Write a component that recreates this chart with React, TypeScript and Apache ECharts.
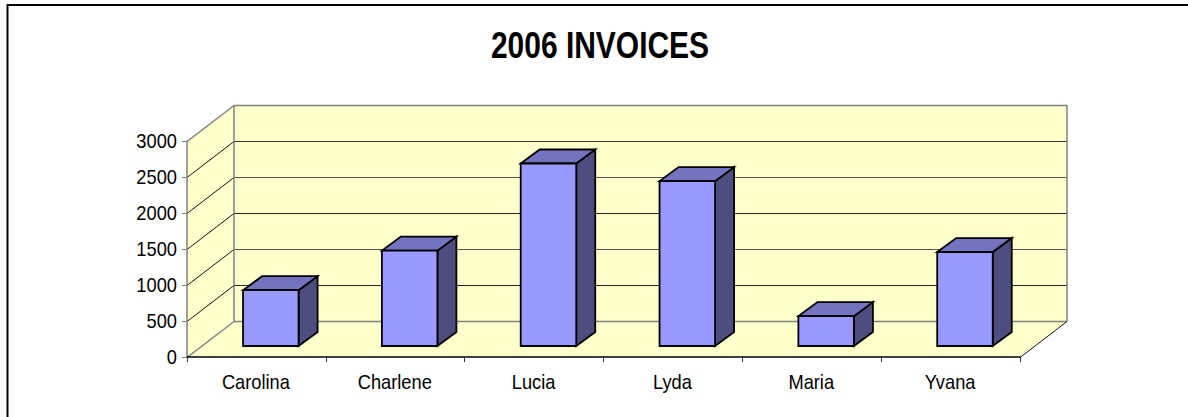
import React, { useEffect, useRef } from "react";
import * as echarts from "echarts";

const titleText = "2006 INVOICES";
const categories = ["Carolina", "Charlene", "Lucia", "Lyda", "Maria", "Yvana"];
const invoices = [775, 1325, 2535, 2290, 415, 1305];
const valueTicks = [0, 500, 1000, 1500, 2000, 2500, 3000];

const WALL_DX = 47;
const WALL_DY = -36;
const BAR_OFFSET_X = 14.4;
const BAR_OFFSET_Y = -11;
const BAR_DX = 19;
const BAR_DY = -14;
const BAR_RATIO = 0.4;
const FONT = "'Liberation Sans', Arial, sans-serif";
const LABEL_SIZE = 21;
const LABEL_SQUEEZE = 0.87;

function poly(points: number[][], fill: string, stroke: string | null, lineWidth = 1) {
  return {
    type: "polygon",
    shape: { points },
    style: { fill, stroke: stroke ?? "none", lineWidth, lineJoin: "miter" },
    silent: true,
  };
}

function segment(a: number[], b: number[], stroke: string, lineWidth = 1) {
  return {
    type: "line",
    shape: { x1: a[0], y1: a[1], x2: b[0], y2: b[1] },
    style: { stroke, lineWidth },
    silent: true,
  };
}

function label(text: string, x: number, y: number, align: string) {
  return {
    type: "text",
    x,
    y,
    scaleX: LABEL_SQUEEZE,
    style: { text, fontFamily: FONT, fontSize: LABEL_SIZE, fill: "#000000", align, verticalAlign: "middle" },
    silent: true,
  };
}

function renderWalls(params: any, api: any) {
  const cs = params.coordSys;
  const left = cs.x;
  const right = cs.x + cs.width;
  const bottom = cs.y + cs.height;
  const top = cs.y;
  const wall = "#FFFFCC";
  const edge = "#808080";
  const children: any[] = [
    poly([[left + WALL_DX, top + WALL_DY], [right + WALL_DX, top + WALL_DY], [right + WALL_DX, bottom + WALL_DY], [left + WALL_DX, bottom + WALL_DY]], wall, null),
    poly([[left, top], [left + WALL_DX, top + WALL_DY], [left + WALL_DX, bottom + WALL_DY], [left, bottom]], wall, null),
    poly([[left, bottom], [left + WALL_DX, bottom + WALL_DY], [right + WALL_DX, bottom + WALL_DY], [right, bottom]], wall, null),
  ];
  valueTicks.forEach((v) => {
    const y = Math.round(api.coord([0, v])[1]) + 0.5;
    const backY = y + WALL_DY;
    if (v === 0) {
      children.push(segment([left + WALL_DX, backY], [right + WALL_DX, backY], "#808080", 1.5));
      children.push(segment([left, y], [left + WALL_DX, backY], edge, 1.5));
    } else if (v === 3000) {
      children.push(segment([left + WALL_DX, backY + 36], [right + WALL_DX, backY + 36], "#333333"));
      children.push(segment([left, y], [left + WALL_DX, backY], edge, 1.5));
    } else {
      if (v !== 2500) children.push(segment([left + WALL_DX, backY], [right + WALL_DX, backY], v === 1000 || v === 2000 ? "#555555" : "#222222"));
      children.push(segment([left, y], [left + WALL_DX, backY], "#111111", 1));
    }
    children.push(label(String(v), left - 10, y - 1, "right"));
  });
  categories.forEach((c, i) => {
    children.push(label(c, api.coord([i, 0])[0] - 0.5, bottom + 24.5, "center"));
  });
  const topY = Math.round(top) + 0.5 + WALL_DY;
  const botY = Math.round(bottom) + 0.5 + WALL_DY;
  children.push(segment([left + WALL_DX, topY], [left + WALL_DX, botY], edge, 1.5));
  children.push(segment([left + WALL_DX, topY], [right + WALL_DX, topY], edge, 1.5));
  children.push(segment([right + WALL_DX, topY], [right + WALL_DX, botY], edge, 1.5));
  children.push(segment([right, Math.round(bottom) + 0.5], [right + WALL_DX, botY], "#111111", 1));
  return { type: "group", children };
}

function renderBar(_params: any, api: any) {
  const base = api.coord([api.value(0), 0]);
  const head = api.coord([api.value(0), api.value(1)]);
  const width = api.size([1, 0])[0] * BAR_RATIO;
  const x0 = base[0] - width / 2 + BAR_OFFSET_X;
  const x1 = x0 + width;
  const yB = base[1] + BAR_OFFSET_Y;
  const yT = head[1] + BAR_OFFSET_Y;
  const stroke = "#000000";
  return {
    type: "group",
    children: [
      poly([[x1, yT], [x1 + BAR_DX, yT + BAR_DY], [x1 + BAR_DX, yB + BAR_DY], [x1, yB]], "#4D4D80", stroke, 1.8),
      poly([[x0, yT], [x0 + BAR_DX, yT + BAR_DY], [x1 + BAR_DX, yT + BAR_DY], [x1, yT]], "#7373BF", stroke, 1.8),
      poly([[x0, yT], [x1, yT], [x1, yB], [x0, yB]], "#9999FF", stroke, 1.8),
    ],
  };
}

export default function App() {
  const ref = useRef<HTMLDivElement>(null);
  useEffect(() => {
    document.body.style.margin = "0";
    document.body.style.background = "#ffffff";
    const chart = echarts.init(ref.current!, null, { renderer: "svg" });
    chart.setOption({
      animation: false,
      backgroundColor: "#ffffff",
      grid: { left: 187, top: 141, width: 833, height: 216, containLabel: false },
      xAxis: {
        type: "category",
        data: categories,
        axisLine: { show: true, lineStyle: { color: "#000000", width: 1.5 } },
        axisTick: { show: true, length: 5, lineStyle: { color: "#333333" } },
        axisLabel: { show: false },
        splitLine: { show: false },
      },
      yAxis: {
        type: "value",
        min: 0,
        max: 3000,
        interval: 500,
        axisLine: { show: true, lineStyle: { color: "#808080", width: 1.5 } },
        axisTick: { show: true, length: 5, lineStyle: { color: "#808080" } },
        axisLabel: { show: false },
        splitLine: { show: false },
      },
      graphic: [
        {
          type: "polyline",
          shape: { points: [[7.5, 417], [7.5, 5], [1188, 5]] },
          style: { fill: "none", stroke: "#000000", lineWidth: 2 },
          silent: true,
        },
        {
          type: "text",
          x: 600,
          y: 45,
          scaleX: 0.81,
          style: {
            text: titleText,
            fontFamily: FONT,
            fontSize: 37,
            fontWeight: "bold",
            fill: "#000000",
            align: "center",
            verticalAlign: "middle",
          },
          silent: true,
        },
      ],
      series: [
        {
          type: "custom",
          name: "walls",
          data: [[0, 0]],
          renderItem: renderWalls,
          z: 0,
          silent: true,
          tooltip: { show: false },
        },
        {
          type: "custom",
          name: "2006 invoices",
          data: invoices.map((v, i) => [i, v]),
          encode: { x: 0, y: 1 },
          renderItem: renderBar,
          z: 3,
          silent: true,
        },
      ],
    });
    return () => chart.dispose();
  }, []);
  return (
    <div
      ref={ref}
      style={{ position: "absolute", left: 0, top: 0, width: 1188, height: 417, overflow: "hidden" }}
    />
  );
}
